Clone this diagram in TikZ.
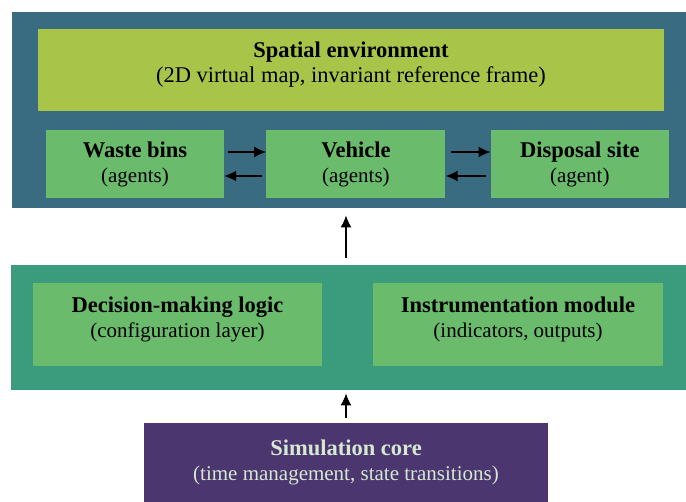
\documentclass[tikz,border=0pt]{standalone}
\usepackage{fontspec}
\setmainfont{Liberation Serif}
\usetikzlibrary{arrows.meta,positioning}

\definecolor{envblue}{HTML}{396C81}
\definecolor{mapgreen}{HTML}{A8C54A}
\definecolor{agentgreen}{HTML}{6BBB6D}
\definecolor{ctrlgreen}{HTML}{3A9C7D}
\definecolor{corepurple}{HTML}{4B366F}
\definecolor{coretext}{HTML}{D5E8D2}

\tikzset{
  layer/.style={fill=#1,inner sep=0pt,anchor=north west},
  block/.style={fill=agentgreen,align=center,inner sep=0pt,
    font=\fontsize{21}{25}\selectfont},
  agent/.style={block,minimum width=178pt,minimum height=68pt},
  flow/.style={-{Latex[length=12pt,width=11pt]},line width=1.6pt}
}
\newcommand{\ttl}[1]{{\fontsize{22.5}{25}\selectfont\bfseries #1}}
% extra depth under the last line, lifts the text a little
\newcommand{\lift}{\rule[-15pt]{0pt}{0pt}}

\begin{document}
\begin{tikzpicture}[x=1pt,y=-1pt]
\useasboundingbox (0,0) rectangle (686,502);
% the three layers
\node[layer=envblue,minimum width=674pt,minimum height=196pt] (env) at (12,12) {};
\node[layer=ctrlgreen,minimum width=675pt,minimum height=125pt] (ctrl) at (11,265) {};
\node[block,fill=corepurple,text=coretext,minimum width=404pt,minimum height=79pt] (core) at (346,462.5)
  {\ttl{Simulation core}\\(time management, state transitions)};
% environment and agents
\node[block,fill=mapgreen,minimum width=626pt,minimum height=82pt] (map) at (351,70)
  {\ttl{Spatial environment}\\{\fontsize{22.5}{25}\selectfont(2D virtual map, invariant reference frame)\lift}};
\node[agent] (bins) at (135,164) {\ttl{Waste bins}\\(agents)};
\node[agent,right=42pt of bins,minimum width=179pt] (veh) {\ttl{Vehicle}\\(agents)};
\node[agent,right=45pt of veh] (dump) {\ttl{Disposal site}\\(agent)};
% logic and instrumentation
\node[block,minimum width=289pt,minimum height=83pt] (logic) at (177.5,325)
  {\ttl{Decision-making logic}\\(configuration layer)\lift};
\node[block,minimum width=290pt,minimum height=83pt] (instr) at (518,325)
  {\ttl{Instrumentation module}\\(indicators, outputs)\lift};

\draw[flow,shorten <=4pt] ([yshift=12pt]bins.east) -- ([yshift=12pt]veh.west);
\draw[flow,shorten <=4pt] ([yshift=-12pt]veh.west) -- ([yshift=-12pt]bins.east);
\draw[flow,shorten <=5pt] ([yshift=12pt]veh.east) -- ([yshift=12pt]dump.west);
\draw[flow,shorten <=5pt] ([yshift=-12pt]dump.west) -- ([yshift=-12pt]veh.east);
\draw[flow,shorten <=7pt,shorten >=7pt] (core.north |- ctrl.north) -- (core.north |- env.south);
\draw[flow,shorten <=5pt,shorten >=3pt] (core.north) -- (core.north |- ctrl.south);
\end{tikzpicture}
\end{document}
